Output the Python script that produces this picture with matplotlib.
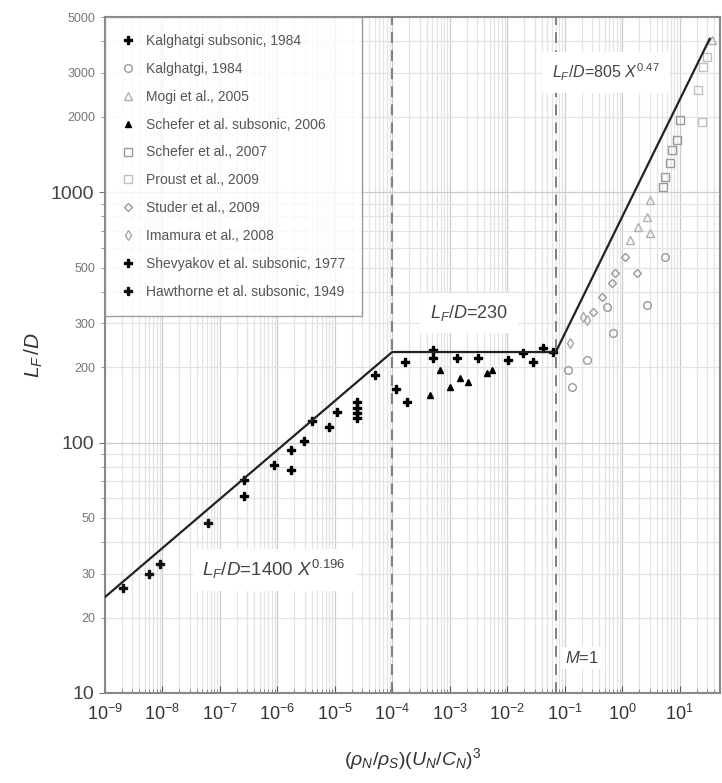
import math
import matplotlib
matplotlib.use("Agg")
import matplotlib.pyplot as plt
from matplotlib.ticker import LogLocator, FixedLocator, FuncFormatter, NullFormatter

plt.rcParams['font.family'] = ['Liberation Sans', 'DejaVu Sans']
plt.rcParams['mathtext.fontset'] = 'custom'
plt.rcParams['mathtext.rm'] = 'Liberation Sans'
plt.rcParams['mathtext.it'] = 'Liberation Sans:italic'

# ---- data ----
hawthorne_x = [2.06e-9, 5.8e-9, 9.1e-9, 6.2e-8]
hawthorne_y = [26.2, 29.9, 32.7, 47.7]

shevyakov_x = [2.6e-7, 2.6e-7, 8.7e-7, 1.72e-6, 1.72e-6, 2.9e-6, 4.1e-6, 7.9e-6, 1.08e-5]
shevyakov_y = [70.8, 61.1, 81.3, 93.3, 77.6, 101.4, 121.9, 115.3, 132.4]

kalg_sub_x = [2.4e-5, 2.4e-5, 2.4e-5, 2.4e-5, 4.97e-5, 1.15e-4, 1.65e-4, 1.79e-4,
              5.06e-4, 5.06e-4, 1.32e-3, 3.07e-3, 1.02e-2, 1.86e-2, 2.77e-2, 4.14e-2, 6.18e-2]
kalg_sub_y = [145, 138, 131, 125, 186, 163, 210, 145,
              234, 217, 217, 217, 213, 228, 210, 238, 230]

schefer_sub_x = [4.49e-4, 6.7e-4, 1.0e-3, 1.49e-3, 2.06e-3, 4.4e-3, 5.37e-3]
schefer_sub_y = [155, 195, 167, 181, 174, 189, 195]

kalg_x = [0.113, 0.132, 0.242, 0.684, 2.67, 5.48, 0.537]
kalg_y = [195, 167, 213, 274, 354, 550, 348]

imamura_x = [0.122, 0.206, 0.242]
imamura_y = [250, 317, 308]

studer_x = [0.307, 0.44, 0.656, 0.741, 1.10, 1.79]
studer_y = [332, 381, 434, 475, 550, 475]

mogi_x = [1.35, 1.86, 3.0, 2.67, 3.0, 36.1]
mogi_y = [643, 725, 686, 795, 929, 4045]

schefer_x = [5.06, 5.48, 6.7, 7.26, 8.87, 10.0]
schefer_y = [1047, 1148, 1306, 1472, 1614, 1938]

proust_x = [24.1, 20.6, 25.1, 29.5]
proust_y = [1902, 2553, 3155, 3460]

# correlation line vertices
corr_x = [1e-9, 1e-4, 0.07, 33.3]
corr_y = [24.1, 230, 230, 4100]

regime_x = [1e-4, 0.07]

fig = plt.figure(figsize=(7.22, 7.83), dpi=100)
ax = fig.add_axes([0.145, 0.115, 0.852, 0.863])

ax.set_xscale('log')
ax.set_yscale('log')
ax.set_xlim(1e-9, 50)
ax.set_ylim(10, 5000)

# grid
ax.grid(which='major', color='#cccccc', lw=0.9)
ax.grid(which='minor', color='#e3e3e3', lw=0.9)
ax.set_axisbelow(True)

grey = '#9a9a9a'
ms = 5.5
ax.plot(kalg_sub_x, kalg_sub_y, 'P', color='black', ms=ms, ls='none', label='Kalghatgi subsonic, 1984')
ax.plot(kalg_x, kalg_y, 'o', mfc='none', mec=grey, ms=ms, ls='none', label='Kalghatgi, 1984')
ax.plot(mogi_x, mogi_y, '^', mfc='none', mec='#b0b0b0', ms=ms, ls='none', label='Mogi et al., 2005')
ax.plot(schefer_sub_x, schefer_sub_y, '^', color='black', ms=4.5, ls='none', label='Schefer et al. subsonic, 2006')
ax.plot(schefer_x, schefer_y, 's', mfc='none', mec=grey, ms=ms, ls='none', label='Schefer et al., 2007')
ax.plot(proust_x, proust_y, 's', mfc='none', mec='#c0c0c0', ms=ms, ls='none', label='Proust et al., 2009')
ax.plot(studer_x, studer_y, 'D', mfc='none', mec=grey, ms=4.5, ls='none', label='Studer et al., 2009')
ax.plot(imamura_x, imamura_y, 'd', mfc='none', mec='#a8a8a8', ms=ms, ls='none', label='Imamura et al., 2008')
ax.plot(shevyakov_x, shevyakov_y, 'P', color='black', ms=ms, ls='none', label='Shevyakov et al. subsonic, 1977')
ax.plot(hawthorne_x, hawthorne_y, 'P', color='#111111', ms=ms, ls='none', label='Hawthorne et al. subsonic, 1949')

ax.plot(corr_x, corr_y, color='#222222', lw=1.6, zorder=5)
for xv in regime_x:
    ax.axvline(xv, color='#777777', lw=1.3, ls=(0, (6, 4)), zorder=4)

box = dict(facecolor='white', edgecolor='none', pad=7)
tcol = '#444444'
ax.text(5e-8, 31, r'$L_F/D$=1400 $X^{0.196}$', fontsize=13.5, color=tcol, va='center', bbox=box, zorder=6)
ax.text(4.5e-4, 329, r'$L_F/D$=230', fontsize=13, color=tcol, va='center', bbox=box, zorder=6)
ax.text(0.06, 3000, r'$L_F/D$=805 $X^{0.47}$', fontsize=11.5, color=tcol, va='center', bbox=box, zorder=6)
ax.text(0.1, 13.8, r'$M$=1', fontsize=12, color=tcol, va='center',
        bbox=dict(facecolor='white', edgecolor='none', pad=2), zorder=6)

# ticks
ax.xaxis.set_major_locator(FixedLocator([10.0**k for k in range(-9, 2)]))
ax.xaxis.set_major_formatter(FuncFormatter(lambda v, p: r'$10^{%d}$' % round(math.log10(v))))
ax.xaxis.set_minor_locator(LogLocator(base=10, subs=range(2, 10), numticks=30))
ax.xaxis.set_minor_formatter(NullFormatter())

ax.yaxis.set_major_locator(FixedLocator([10, 100, 1000]))
ax.yaxis.set_major_formatter(FuncFormatter(lambda v, p: '%d' % v))
ax.yaxis.set_minor_locator(LogLocator(base=10, subs=range(2, 10), numticks=30))
ylabels_minor = [20, 30, 50, 200, 300, 500, 2000, 3000, 5000]
ax.yaxis.set_minor_formatter(FuncFormatter(lambda v, p: '%d' % round(v) if round(v) in ylabels_minor else ''))

ax.tick_params(axis='x', which='major', labelsize=13, colors='#555555', labelcolor='#333333',
               direction='in', length=5, pad=8)
ax.tick_params(axis='x', which='minor', direction='in', length=3, colors='#777777')
ax.tick_params(axis='y', which='major', labelsize=14, colors='#777777', labelcolor='#444444', length=4)
ax.tick_params(axis='y', which='minor', labelsize=9, colors='#888888', labelcolor='#777777', length=3)

for s in ax.spines.values():
    s.set_color('#888888')
    s.set_linewidth(1.5)

ax.set_xlabel(r'$(\rho_N/\rho_S)(U_N/C_N)^3$', fontsize=14, color='#333333', labelpad=16)
ax.set_ylabel(r'$L_F\,/D$', fontsize=15, color='#333333', labelpad=4)

leg = ax.legend(loc='upper left', borderaxespad=0, fontsize=10, labelspacing=1.0,
                handletextpad=0.8, borderpad=1.2, fancybox=False, frameon=True,
                handlelength=1.0, labelcolor='#555555')
leg.get_frame().set_edgecolor('#888888')
leg.get_frame().set_linewidth(1.0)
leg.set_zorder(7)

fig.savefig('out.png', dpi=100)
